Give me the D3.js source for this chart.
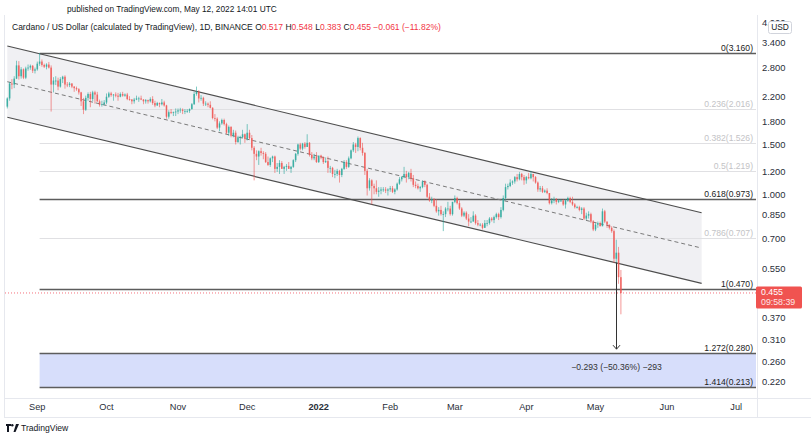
<!DOCTYPE html>
<html><head><meta charset="utf-8">
<script src="https://cdn.jsdelivr.net/npm/d3@7"></script>
<style>
html,body{margin:0;padding:0;background:#fff;}
svg{display:block;font-family:"Liberation Sans",Arial,sans-serif;}
</style></head><body>
<svg id="c" width="811" height="440"></svg>
<script>
// ---------- DATA ----------
const startDate = "2021-08-19"; // first daily candle
// daily candles [open, high, low, close]
const ohlc = [
// Aug 19-31
[2.05,2.21,2.02,2.19],[2.19,2.50,2.15,2.47],[2.47,2.56,2.36,2.45],[2.45,2.62,2.38,2.57],[2.57,2.97,2.56,2.86],
[2.86,2.96,2.55,2.62],[2.62,2.82,2.57,2.77],[2.77,2.79,2.56,2.59],[2.59,2.83,2.56,2.79],[2.79,2.88,2.74,2.81],
[2.81,2.88,2.76,2.85],[2.85,2.87,2.69,2.74],[2.74,2.81,2.68,2.77],
// Sep
[2.77,2.95,2.74,2.90],[2.90,3.16,2.85,2.95],[2.95,3.00,2.83,2.87],[2.87,2.90,2.80,2.83],[2.83,2.91,2.77,2.88],
[2.88,2.94,2.79,2.81],[2.81,2.86,1.97,2.45],[2.45,2.60,2.30,2.53],[2.53,2.62,2.44,2.53],[2.53,2.59,2.34,2.41],
[2.41,2.60,2.39,2.56],[2.56,2.63,2.48,2.61],[2.61,2.64,2.37,2.45],[2.45,2.50,2.40,2.44],[2.44,2.50,2.40,2.47],
[2.47,2.48,2.38,2.41],[2.41,2.42,2.31,2.38],[2.38,2.41,2.33,2.36],[2.36,2.38,2.26,2.30],[2.30,2.31,2.06,2.14],
[2.14,2.20,1.93,2.00],[2.00,2.24,1.98,2.20],[2.20,2.30,2.15,2.27],[2.27,2.31,2.04,2.18],[2.18,2.33,2.14,2.30],
[2.30,2.33,2.10,2.26],[2.26,2.31,2.13,2.14],[2.14,2.17,2.05,2.08],[2.08,2.15,2.05,2.09],[2.09,2.16,2.07,2.12],
// Oct
[2.12,2.28,2.09,2.22],[2.22,2.31,2.20,2.28],[2.28,2.31,2.22,2.25],[2.25,2.27,2.15,2.26],[2.26,2.30,2.21,2.24],
[2.24,2.29,2.15,2.22],[2.22,2.30,2.21,2.27],[2.27,2.31,2.22,2.24],[2.24,2.28,2.22,2.26],[2.26,2.29,2.16,2.18],
[2.18,2.23,2.15,2.17],[2.17,2.18,2.09,2.14],[2.14,2.20,2.10,2.17],[2.17,2.24,2.16,2.19],[2.19,2.22,2.13,2.19],
[2.19,2.24,2.16,2.17],[2.17,2.18,2.09,2.14],[2.14,2.18,2.10,2.16],[2.16,2.17,2.10,2.14],[2.14,2.21,2.12,2.18],
[2.18,2.23,2.08,2.11],[2.11,2.15,2.04,2.07],[2.07,2.13,2.06,2.11],[2.11,2.12,2.04,2.09],[2.09,2.18,2.07,2.12],
[2.12,2.15,2.05,2.07],[2.07,2.08,1.86,1.89],[1.89,1.99,1.86,1.96],[1.96,2.01,1.93,1.95],[1.95,1.97,1.90,1.96],
[1.96,2.02,1.90,1.97],
// Nov
[1.97,2.02,1.93,1.99],[1.99,2.03,1.95,2.00],[2.00,2.02,1.93,1.98],[1.98,2.01,1.93,1.98],[1.98,2.01,1.95,1.98],
[1.98,2.02,1.95,2.01],[2.01,2.11,2.00,2.09],[2.09,2.31,2.08,2.27],[2.27,2.41,2.24,2.31],[2.31,2.34,2.12,2.19],
[2.19,2.25,2.15,2.20],[2.20,2.22,2.06,2.10],[2.10,2.14,2.06,2.10],[2.10,2.12,2.04,2.08],[2.08,2.14,2.02,2.03],
[2.03,2.04,1.85,1.87],[1.87,1.93,1.82,1.86],[1.86,1.88,1.71,1.73],[1.73,1.82,1.68,1.79],[1.79,1.86,1.77,1.84],
[1.84,1.86,1.76,1.78],[1.78,1.80,1.64,1.66],[1.66,1.76,1.62,1.74],[1.74,1.75,1.60,1.62],[1.62,1.70,1.60,1.66],
[1.66,1.69,1.51,1.54],[1.54,1.62,1.53,1.60],[1.60,1.62,1.51,1.60],[1.60,1.70,1.59,1.64],[1.64,1.65,1.53,1.58],
// Dec
[1.58,1.78,1.56,1.66],[1.66,1.70,1.57,1.59],[1.59,1.63,1.44,1.47],[1.47,1.49,1.13,1.40],[1.40,1.44,1.33,1.37],
[1.37,1.44,1.28,1.43],[1.43,1.47,1.38,1.41],[1.41,1.43,1.34,1.40],[1.40,1.42,1.30,1.31],[1.31,1.37,1.27,1.28],
[1.28,1.36,1.26,1.35],[1.35,1.38,1.31,1.37],[1.37,1.38,1.20,1.24],[1.24,1.30,1.21,1.26],[1.26,1.33,1.19,1.30],
[1.30,1.32,1.24,1.24],[1.24,1.27,1.19,1.26],[1.26,1.29,1.22,1.27],[1.27,1.31,1.24,1.24],[1.24,1.27,1.20,1.26],
[1.26,1.34,1.25,1.33],[1.33,1.41,1.31,1.40],[1.40,1.52,1.38,1.51],[1.51,1.53,1.44,1.46],[1.46,1.53,1.44,1.52],
[1.52,1.54,1.46,1.48],[1.48,1.64,1.48,1.53],[1.53,1.54,1.37,1.39],[1.39,1.42,1.33,1.35],[1.35,1.40,1.33,1.37],
[1.37,1.42,1.30,1.31],
// Jan 2022
[1.31,1.38,1.30,1.38],[1.38,1.39,1.34,1.36],[1.36,1.37,1.29,1.31],[1.31,1.36,1.30,1.32],[1.32,1.37,1.20,1.25],
[1.25,1.27,1.20,1.25],[1.25,1.26,1.16,1.19],[1.19,1.23,1.15,1.19],[1.19,1.24,1.17,1.22],[1.22,1.23,1.11,1.18],
[1.18,1.25,1.16,1.24],[1.24,1.33,1.23,1.31],[1.31,1.33,1.24,1.26],[1.26,1.37,1.25,1.35],[1.35,1.45,1.34,1.44],
[1.44,1.54,1.42,1.51],[1.51,1.53,1.41,1.48],[1.48,1.61,1.43,1.59],[1.59,1.60,1.44,1.47],[1.47,1.53,1.38,1.41],
[1.41,1.42,1.18,1.22],[1.22,1.24,1.00,1.06],[1.06,1.15,1.04,1.13],[1.13,1.14,0.93,1.08],[1.08,1.10,1.01,1.06],
[1.06,1.13,1.01,1.03],[1.03,1.07,0.99,1.04],[1.04,1.07,1.01,1.05],[1.05,1.07,1.03,1.05],[1.05,1.07,1.02,1.04],
[1.04,1.06,1.00,1.05],
// Feb
[1.05,1.08,1.03,1.06],[1.06,1.08,1.02,1.03],[1.03,1.06,1.01,1.05],[1.05,1.11,1.04,1.10],[1.10,1.16,1.09,1.14],
[1.14,1.17,1.12,1.16],[1.16,1.26,1.15,1.19],[1.19,1.22,1.11,1.16],[1.16,1.21,1.14,1.20],[1.20,1.24,1.12,1.15],
[1.15,1.18,1.07,1.09],[1.09,1.12,1.06,1.08],[1.08,1.10,1.05,1.06],[1.06,1.08,1.03,1.07],[1.07,1.13,1.06,1.12],
[1.12,1.13,1.07,1.09],[1.09,1.10,0.98,0.99],[0.99,1.02,0.95,0.96],[0.96,0.99,0.94,0.97],[0.97,0.98,0.91,0.92],
[0.92,0.97,0.87,0.88],[0.88,0.91,0.85,0.89],[0.89,0.92,0.85,0.86],[0.86,0.88,0.75,0.86],[0.86,0.91,0.84,0.90],
[0.90,0.95,0.88,0.90],[0.90,0.92,0.85,0.86],[0.86,0.95,0.85,0.95],
// Mar
[0.95,1.00,0.94,0.98],[0.98,0.99,0.93,0.94],[0.94,0.96,0.89,0.90],[0.90,0.91,0.84,0.85],[0.85,0.88,0.84,0.87],
[0.87,0.88,0.82,0.83],[0.83,0.86,0.78,0.81],[0.81,0.84,0.80,0.81],[0.81,0.88,0.81,0.85],[0.85,0.86,0.79,0.80],
[0.80,0.82,0.78,0.79],[0.79,0.80,0.78,0.79],[0.79,0.80,0.76,0.77],[0.77,0.82,0.77,0.80],[0.80,0.82,0.78,0.80],
[0.80,0.84,0.79,0.83],[0.83,0.84,0.81,0.82],[0.82,0.85,0.80,0.84],[0.84,0.87,0.83,0.86],[0.86,0.87,0.82,0.84],
[0.84,0.91,0.83,0.89],[0.89,1.00,0.88,0.98],[0.98,1.10,0.96,1.07],[1.07,1.10,1.05,1.08],[1.08,1.14,1.07,1.11],
[1.11,1.13,1.09,1.12],[1.12,1.17,1.10,1.16],[1.16,1.19,1.12,1.14],[1.14,1.21,1.13,1.19],[1.19,1.20,1.13,1.16],
[1.16,1.18,1.09,1.13],
// Apr
[1.13,1.17,1.10,1.16],[1.16,1.20,1.14,1.15],[1.15,1.22,1.14,1.19],[1.19,1.19,1.12,1.16],[1.16,1.17,1.10,1.11],
[1.11,1.12,1.03,1.05],[1.05,1.08,1.03,1.06],[1.06,1.08,1.02,1.03],[1.03,1.05,1.02,1.04],[1.04,1.06,1.01,1.02],
[1.02,1.02,0.93,0.94],[0.94,0.98,0.93,0.96],[0.96,0.99,0.94,0.97],[0.97,0.98,0.93,0.95],[0.95,0.97,0.94,0.96],
[0.96,0.97,0.95,0.96],[0.96,0.97,0.92,0.93],[0.93,0.97,0.90,0.96],[0.96,0.99,0.95,0.98],[0.98,0.99,0.94,0.95],
[0.95,0.99,0.92,0.93],[0.93,0.94,0.90,0.91],[0.91,0.92,0.90,0.91],[0.91,0.92,0.88,0.89],[0.89,0.91,0.86,0.90],
[0.90,0.91,0.82,0.83],[0.83,0.87,0.82,0.85],[0.85,0.88,0.83,0.86],[0.86,0.87,0.80,0.81],[0.81,0.82,0.75,0.76],
// May 1-12
[0.76,0.80,0.75,0.79],[0.79,0.81,0.77,0.80],[0.80,0.81,0.78,0.78],[0.78,0.90,0.78,0.88],[0.88,0.89,0.80,0.81],
[0.81,0.81,0.77,0.79],[0.79,0.79,0.76,0.77],[0.77,0.78,0.74,0.75],[0.75,0.76,0.58,0.60],[0.60,0.70,0.58,0.63],
[0.63,0.66,0.49,0.517],[0.517,0.548,0.383,0.455]
];

const monthDates  = ["2021-09-01","2021-10-01","2021-11-01","2021-12-01","2022-01-01","2022-02-01","2022-03-01","2022-04-01","2022-05-01","2022-06-01","2022-07-01"];
const monthLabels = ["Sep","Oct","Nov","Dec","2022","Feb","Mar","Apr","May","Jun","Jul"];
const priceTicks  = [4.0,3.4,2.8,2.2,1.8,1.5,1.2,1.0,0.85,0.7,0.55,0.37,0.31,0.26,0.22];

const fibStartDate = "2021-09-02";
const fibRatios = [0,0.236,0.382,0.5,0.618,0.786,1,1.272,1.414];
const fibPrices = [3.160,2.016,1.526,1.219,0.973,0.707,0.470,0.280,0.213];
const fibStrong = [true,false,false,false,true,false,true,true,true];

const channelDates = ["2021-08-19","2022-06-16"];
const channelUpper = [3.345,0.870];
const channelMid   = [2.507,0.654];
const channelLower = [1.881,0.492];

const lastPrice = 0.455;
const lastTime = "09:58:39";
const measureDate = "2022-05-10";
const measurePrices = [0.582,0.289];
const measureText = "\u22120.293 (\u221250.36%) \u2212293";

const headerPublished = "published on TradingView.com, May 12, 2022 14:01 UTC";
const headerTitle = "Cardano / US Dollar (calculated by TradingView), 1D, BINANCE";
const headerOHLC = [["O","0.517"],["H","0.548"],["L","0.383"],["C","0.455"]];
const headerChange = "\u22120.061 (\u221211.82%)";

// ---------- LAYOUT ----------
const W = 811, H = 440;
const plotL = 5, plotR = 757, plotT = 15, plotB = 398;
const parse = d3.utcParse("%Y-%m-%d");
const x = d3.scaleUtc().domain([parse("2021-08-18"), parse("2022-07-10")]).range([plotL, plotR]);
const y = d3.scaleLog().domain([0.1948, 4.297]).range([plotB, plotT]);

const svg = d3.select("#c");
svg.append("rect").attr("width", W).attr("height", H).attr("fill", "#fff");

const plot = svg.append("g");
svg.append("clipPath").attr("id","pc").append("rect")
  .attr("x", plotL).attr("y", plotT).attr("width", plotR-plotL).attr("height", plotB-plotT);
plot.attr("clip-path","url(#pc)");

// channel fill
const cd = channelDates.map(parse);
plot.append("path")
  .attr("d", `M${x(cd[0])},${y(channelUpper[0])}L${x(cd[1])},${y(channelUpper[1])}L${x(cd[1])},${y(channelLower[1])}L${x(cd[0])},${y(channelLower[0])}Z`)
  .attr("fill", "#f0f0f3");

// blue target box
const fs = parse(fibStartDate);
plot.append("rect")
  .attr("x", x(fs)).attr("width", plotR - 1 - x(fs))
  .attr("y", y(fibPrices[7])).attr("height", y(fibPrices[8]) - y(fibPrices[7]))
  .attr("fill", "#d7defb");

// fib lines
fibRatios.forEach((r, i) => {
  const yy = Math.round(y(fibPrices[i])) + 0.5;
  plot.append("line")
    .attr("x1", x(fs)).attr("x2", plotR - 1)
    .attr("y1", yy).attr("y2", yy)
    .attr("stroke", fibStrong[i] ? "#5d5d5d" : "#e0e0e3")
    .attr("stroke-width", fibStrong[i] ? 1.4 : 1);
});

// channel lines
const line = d3.line().x(d => x(d[0])).y(d => y(d[1]));
[[channelUpper, null], [channelLower, null], [channelMid, "4,3"]].forEach(([arr, dash]) => {
  plot.append("path")
    .attr("d", line(cd.map((d, i) => [d, arr[i]])))
    .attr("fill", "none")
    .attr("stroke", dash ? "#7a7a7a" : "#4e4e4e")
    .attr("stroke-width", dash ? 1 : 1.2)
    .attr("stroke-dasharray", dash);
});

// candles
const s0 = parse(startDate);
const candles = ohlc.map((d, i) => ({ date: d3.utcDay.offset(s0, i), o: d[0], h: d[1], l: d[2], c: d[3] }));
const cg = plot.append("g");
candles.forEach(d => {
  const cx = x(d.date);
  const up = d.c >= d.o;
  const col = up ? "#26a69a" : "#ef5350";
  cg.append("line").attr("x1", cx).attr("x2", cx).attr("y1", y(d.h)).attr("y2", y(d.l))
    .attr("stroke", col).attr("stroke-width", 0.8).attr("opacity", 0.75);
  const yt = y(Math.max(d.o, d.c)), yb = y(Math.min(d.o, d.c));
  cg.append("rect").attr("x", cx - 0.8).attr("width", 1.6)
    .attr("y", yt).attr("height", Math.max(0.8, yb - yt))
    .attr("fill", col).attr("opacity", 0.78);
});

// measurement arrow
const mx = Math.round(x(parse(measureDate))) + 0.5;
const my0 = y(measurePrices[0]), my1 = y(measurePrices[1]);
plot.append("line").attr("x1", mx).attr("x2", mx).attr("y1", my0).attr("y2", my1)
  .attr("stroke", "#333").attr("stroke-width", 1);
plot.append("path").attr("d", `M${mx-3.5},${my1-4}L${mx},${my1}L${mx+3.5},${my1-4}`)
  .attr("fill", "none").attr("stroke", "#333").attr("stroke-width", 1);
plot.append("text").attr("x", mx).attr("y", (y(fibPrices[7]) + y(fibPrices[8])) / 2 - 2)
  .attr("text-anchor", "middle").attr("dominant-baseline", "middle")
  .attr("font-size", 8.6).attr("fill", "#333").text(measureText);

// fib labels
fibRatios.forEach((r, i) => {
  plot.append("text")
    .attr("x", plotR - 4).attr("y", y(fibPrices[i]) - 2)
    .attr("text-anchor", "end").attr("font-size", 8.6)
    .attr("fill", fibStrong[i] ? "#222" : "#c3c3c6")
    .text(`${r}(${fibPrices[i].toFixed(3)})`);
});

// last price dotted line
plot.append("line").attr("x1", plotL).attr("x2", plotR)
  .attr("y1", y(lastPrice)).attr("y2", y(lastPrice))
  .attr("stroke", "#f23645").attr("stroke-width", 1).attr("stroke-dasharray", "1,2").attr("opacity", 0.7);

// frame lines
svg.append("line").attr("x1", plotL).attr("x2", W).attr("y1", plotB + 0.5).attr("y2", plotB + 0.5).attr("stroke", "#e6e8ee");
svg.append("line").attr("x1", plotL).attr("x2", W).attr("y1", 417.5).attr("y2", 417.5).attr("stroke", "#e6e8ee");
svg.append("line").attr("x1", plotL - 0.5).attr("x2", plotL - 0.5).attr("y1", plotT).attr("y2", 418).attr("stroke", "#e6e8ee");
svg.append("line").attr("x1", plotR + 0.5).attr("x2", plotR + 0.5).attr("y1", plotT).attr("y2", 418).attr("stroke", "#e6e8ee");

// price axis
const pa = svg.append("g").attr("font-size", 9.4).attr("fill", "#2a2e39");
priceTicks.forEach(v => {
  pa.append("text").attr("x", 762).attr("y", y(v)).attr("dominant-baseline", "middle").text(v.toFixed(3));
});
// USD badge (covers the top tick label as in the original)
svg.append("rect").attr("x", 768.5).attr("y", 21.5).attr("width", 23).attr("height", 12).attr("rx", 2)
  .attr("fill", "#fff").attr("stroke", "#d1d4dc");
svg.append("text").attr("x", 780).attr("y", 28).attr("text-anchor", "middle").attr("dominant-baseline", "middle")
  .attr("font-size", 8.4).attr("fill", "#131722").text("USD");
// last price label
const ly = y(lastPrice);
svg.append("rect").attr("x", 756).attr("y", ly - 6.5).attr("width", 46).attr("height", 22).attr("rx", 1.5).attr("fill", "#f05350");
svg.append("text").attr("x", 761).attr("y", ly - 0.5).attr("dominant-baseline", "middle").attr("font-size", 8.8).attr("fill", "#fff").text(lastPrice.toFixed(3));
svg.append("text").attr("x", 761).attr("y", ly + 9.5).attr("dominant-baseline", "middle").attr("font-size", 8.8).attr("fill", "#fde6e6").text(lastTime);

// time axis
const ta = svg.append("g").attr("font-size", 9.2).attr("fill", "#2a2e39");
monthDates.forEach((d, i) => {
  ta.append("text").attr("x", x(parse(d))).attr("y", 408).attr("text-anchor", "middle")
    .attr("dominant-baseline", "middle").attr("font-weight", monthLabels[i] === "2022" ? "bold" : "normal")
    .text(monthLabels[i]);
});

// header
svg.append("text").attr("x", 67).attr("y", 10).attr("dominant-baseline", "middle")
  .attr("font-size", 8.3).attr("fill", "#131722").text(headerPublished);
const ht = svg.append("text").attr("x", 12).attr("y", 28).attr("dominant-baseline", "middle")
  .attr("font-size", 8.5).attr("fill", "#131722");
ht.append("tspan").text(headerTitle + "  ");
headerOHLC.forEach(([k, v]) => {
  ht.append("tspan").attr("fill", "#131722").text(" " + k);
  ht.append("tspan").attr("fill", "#f23645").text(v);
});
ht.append("tspan").attr("fill", "#f23645").text(" " + headerChange);

// TradingView logo
const lg = svg.append("g").attr("transform", "translate(6,424)").attr("fill", "#131722");
lg.append("path").attr("d", "M0,0H5V2H3V8H1V2H0Z M10,0H13L9.5,8H7.5Z");
lg.append("circle").attr("cx", 6.3).attr("cy", 1.2).attr("r", 1.2);
svg.append("text").attr("x", 21).attr("y", 428.5).attr("dominant-baseline", "middle")
  .attr("font-size", 8.6).attr("fill", "#131722").text("TradingView");
</script>
</body></html>
